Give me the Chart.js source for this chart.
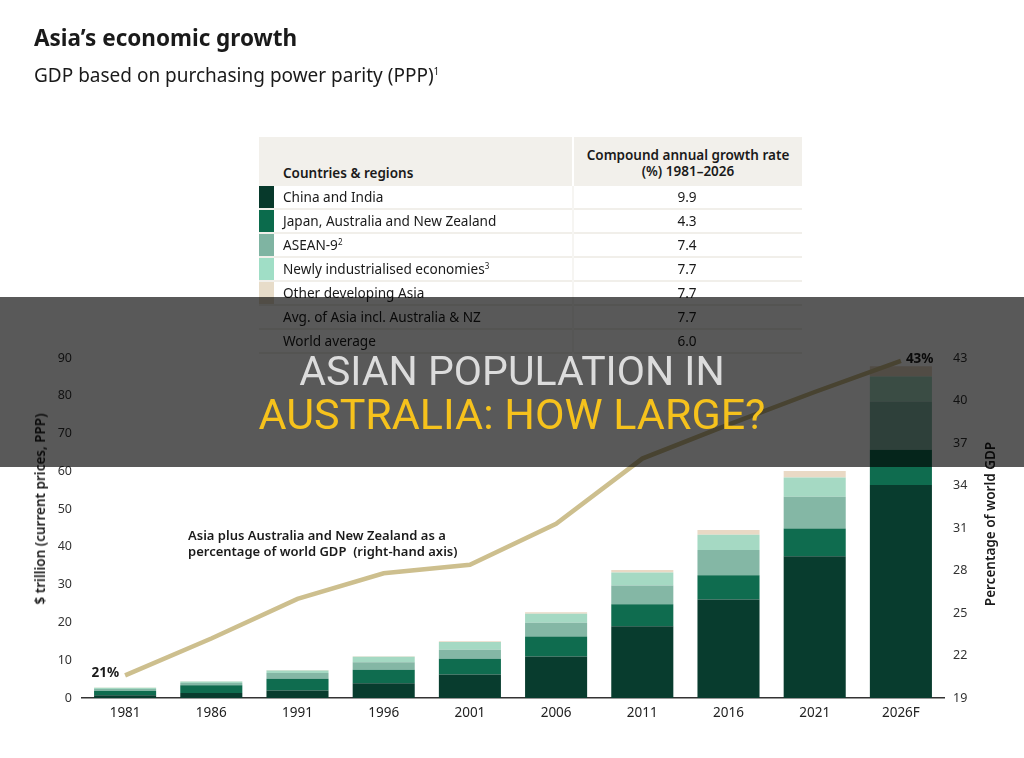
<!DOCTYPE html>
<html>
<head>
<meta charset="utf-8">
<script src="https://cdn.jsdelivr.net/npm/chart.js@4.4.1/dist/chart.umd.min.js"></script>
<style>
  html, body { margin:0; padding:0; }
  body { width:1024px; height:758px; overflow:hidden; background:#fff; position:relative; font-family:'Noto Sans', sans-serif; color:#1a1a1a; }
  .abs { position:absolute; white-space:pre; }
  #wrap { position:absolute; left:0; top:0; width:1024px; height:758px; }
  .row { position:absolute; left:259px; width:543px; height:22px; border-bottom:2px solid #f1efea; }
  .sw { position:absolute; left:0; top:0; width:15px; height:22px; }
  .lab { position:absolute; left:24px; top:0; line-height:22px; font-size:13.6px; color:#1a1a1a; }
  .val { position:absolute; left:314px; width:228px; text-align:center; top:0; line-height:22px; font-size:13.6px; color:#1a1a1a; }
  sup { font-size:8px; vertical-align:5px; line-height:0; }
</style>
</head>
<body>
<div id="wrap"><canvas id="c" width="1024" height="758"></canvas></div>

<div class="abs" style="left:34px;top:27px;font-size:22.5px;line-height:22px;font-weight:700;">Asia’s economic growth</div>
<div class="abs" style="left:34px;top:66px;font-size:19px;line-height:19px;">GDP based on purchasing power parity (PPP)<sup style="font-size:10px;vertical-align:7px;">1</sup></div>

<div id="table"></div>

<div class="abs" style="left:188px;top:527px;font-size:13px;line-height:16px;font-weight:600;color:#1a1a1a;">Asia plus Australia and New Zealand as a
percentage of world GDP  (right-hand axis)</div>

<div class="abs" style="left:40px;top:509px;width:0;height:0;">
  <div style="position:absolute;left:0;top:0;transform:translate(-50%,-50%) rotate(-90deg);font-size:13.5px;font-weight:600;white-space:pre;color:#1a1a1a;">$ trillion (current prices, PPP)</div>
</div>
<div class="abs" style="left:990px;top:524px;width:0;height:0;">
  <div style="position:absolute;left:0;top:0;transform:translate(-50%,-50%) rotate(-90deg);font-size:13.5px;font-weight:600;white-space:pre;color:#1a1a1a;">Percentage of world GDP</div>
</div>

<div class="abs" style="left:0;top:297px;width:1024px;height:170px;background:rgba(0,0,0,0.65);"></div>
<div class="abs" style="left:0;top:350px;width:1024px;text-align:center;font-family:Roboto, sans-serif;font-size:41px;line-height:42px;color:#dcdcdc;">ASIAN POPULATION IN</div>
<div class="abs" style="left:0;top:393px;width:1024px;text-align:center;font-family:Roboto, sans-serif;font-size:43px;line-height:42px;color:#f6c21c;">AUSTRALIA: HOW LARGE?</div>

<script>
// ---------- data ----------
const years = ['1981','1986','1991','1996','2001','2006','2011','2016','2021','2026F'];
const chinaIndia = [0.7, 1.3, 2.0, 3.9, 6.2, 11.0, 19.0, 26.1, 37.5, 56.4];
const japanAusNz = [1.15, 2.05, 3.1, 3.55, 4.2, 5.3, 5.8, 6.4, 7.4, 9.3];
const asean9 = [0.55, 0.6, 1.5, 2.0, 2.4, 3.6, 5.0, 6.7, 8.4, 12.8];
const newlyInd = [0.3, 0.4, 0.7, 1.5, 2.0, 2.4, 3.4, 4.0, 5.1, 6.6];
const otherDev = [0.05, 0.1, 0.1, 0.1, 0.2, 0.4, 0.7, 1.3, 1.7, 2.7];
const worldShare = [20.6, 23.2, 26.0, 27.8, 28.4, 31.3, 35.9, 38.3, 40.6, 42.8];

const tableRegions = ['China and India', 'Japan, Australia and New Zealand', 'ASEAN-9<sup>2</sup>', 'Newly industrialised economies<sup>3</sup>', 'Other developing Asia', 'Avg. of Asia incl. Australia &amp; NZ', 'World average'];
const tableRates = ['9.9', '4.3', '7.4', '7.7', '7.7', '7.7', '6.0'];
const swatchColors = ['#07392b', '#0b6b4c', '#7fb4a2', '#a0dec6', '#e7dcc9', null, null];
const barColors = ['#083c2e', '#0f6c4f', '#84b7a5', '#a5d9c3', '#e9d9c5'];
const lineColor = '#cdbf8e';

// ---------- table ----------
(function(){
  const t = document.getElementById('table');
  let html = '';
  html += '<div class="abs" style="left:259px;top:137px;width:543px;height:49px;background:#f2f0eb;"></div>';
  html += '<div class="abs" style="left:572px;top:137px;width:2px;height:49px;background:#fff;"></div>';
  html += '<div class="abs" style="left:283px;top:167px;font-size:13.5px;line-height:13px;font-weight:600;">Countries &amp; regions</div>';
  html += '<div class="abs" style="left:574px;top:147px;width:228px;text-align:center;font-size:13.5px;line-height:16px;font-weight:600;">Compound annual growth rate\n(%) 1981–2026</div>';
  for (let i = 0; i < tableRegions.length; i++) {
    const top = 186 + i * 24;
    html += '<div class="row" style="top:' + top + 'px;">';
    if (swatchColors[i]) html += '<div class="sw" style="background:' + swatchColors[i] + ';"></div>';
    html += '<div class="lab">' + tableRegions[i] + '</div>';
    html += '<div class="val">' + tableRates[i] + '</div>';
    html += '</div>';
  }
  html += '<div class="abs" style="left:572px;top:186px;width:2px;height:168px;background:#f6f5f2;"></div>';
  t.innerHTML = html;
})();

// ---------- chart ----------
Chart.defaults.font.family = "'Noto Sans', sans-serif";
Chart.defaults.color = '#333';

const endLabels = {
  id: 'endLabels',
  afterDatasetsDraw(chart) {
    const meta = chart.getDatasetMeta(5);
    const p0 = meta.data[0], pN = meta.data[meta.data.length - 1];
    const ctx = chart.ctx;
    ctx.save();
    ctx.font = "700 13.5px 'Noto Sans', sans-serif";
    ctx.fillStyle = '#1a1a1a';
    ctx.textBaseline = 'middle';
    ctx.textAlign = 'right';
    ctx.fillText(Math.round(worldShare[0]) + '%', p0.x - 6, p0.y - 2);
    ctx.textAlign = 'left';
    ctx.fillText(Math.round(worldShare[worldShare.length - 1]) + '%', pN.x + 5, pN.y - 2);
    ctx.restore();
  }
};

const series = [chinaIndia, japanAusNz, asean9, newlyInd, otherDev];
const names = ['China and India', 'Japan, Australia and New Zealand', 'ASEAN-9', 'Newly industrialised economies', 'Other developing Asia'];
const datasets = series.map((d, i) => ({
  type: 'bar', label: names[i], data: d, backgroundColor: barColors[i],
  stack: 'gdp', yAxisID: 'y', order: 1, barPercentage: 0.72, categoryPercentage: 1.0, borderWidth: 0
}));
datasets.push({
  type: 'line', label: 'Share of world GDP', data: worldShare, yAxisID: 'y2',
  borderColor: lineColor, borderWidth: 4.5, pointRadius: 0, tension: 0, order: 0, fill: false
});

new Chart(document.getElementById('c'), {
  type: 'bar',
  data: { labels: years, datasets },
  options: {
    responsive: false,
    animation: false,
    layout: { padding: { top: 358, left: 0, right: 0, bottom: 0 } },
    plugins: { legend: { display: false }, tooltip: { enabled: false } },
    scales: {
      x: {
        stacked: true,
        grid: { display: false, drawTicks: false },
        border: { display: true, color: '#333', width: 1.5 },
        ticks: { padding: 7, font: { size: 13.5 }, color: '#222' },
        afterFit(s) { s.height = 60; }
      },
      y: {
        stacked: true, position: 'left', min: 0, max: 90,
        grid: { display: false, drawTicks: false },
        border: { display: false },
        ticks: { stepSize: 10, padding: 10, font: { size: 12.5 }, color: '#333' },
        afterFit(s) { s.width = 82; }
      },
      y2: {
        position: 'right', min: 19, max: 43,
        grid: { display: false, drawTicks: false },
        border: { display: false },
        ticks: { stepSize: 3, padding: 9, font: { size: 12.5 }, color: '#333' },
        afterFit(s) { s.width = 80; }
      }
    }
  },
  plugins: [endLabels]
});
</script>
</body>
</html>
